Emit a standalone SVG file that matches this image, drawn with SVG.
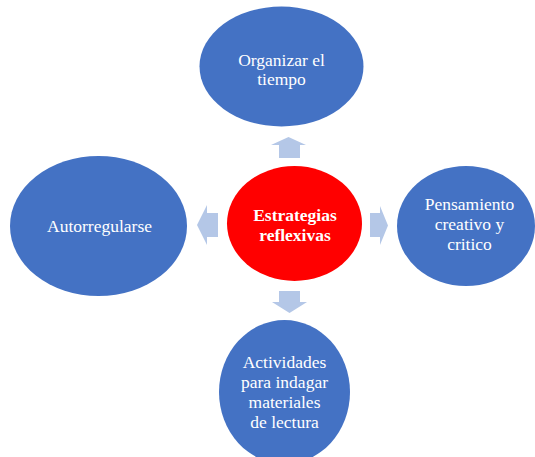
<svg xmlns="http://www.w3.org/2000/svg" width="535" height="457" viewBox="0 0 535 457">
<style>
.n{fill:#4472C4}
.c{fill:#FF0000}
.t{font-family:"Liberation Serif","Times New Roman",serif;font-size:17.5px;fill:#FFFFFF;text-anchor:middle}
.b{font-weight:bold}
.a{fill:#B4C7E7}
</style>
<rect width="535" height="457" fill="#FFFFFF"/>
<g id="connectors">
<polygon class="a" points="279,158 279,145 271,145 288.5,137 306,145 300,145 300,158"/>
<polygon class="a" points="218,213 207,213 207,205 197,225 207,245 207,237 218,237"/>
<polygon class="a" points="370,213 380,213 380,206 388,225.5 380,245 380,237 370,237"/>
<polygon class="a" points="279,291 300,291 300,302 307,302 289.5,313 272,302 279,302"/>
</g>
<g id="center">
<ellipse class="c" cx="294.5" cy="223.5" rx="67.5" ry="57.5"/>
<text class="t b" x="295" y="221">Estrategias</text>
<text class="t b" x="295" y="241">reflexivas</text>
</g>
<g id="top">
<ellipse class="n" cx="281.5" cy="66.5" rx="82" ry="60"/>
<text class="t" x="281.5" y="65.5">Organizar el</text>
<text class="t" x="281.5" y="84.5">tiempo</text>
</g>
<g id="left">
<ellipse class="n" cx="98.5" cy="226" rx="88.5" ry="70"/>
<text class="t" x="99.5" y="232">Autorregularse</text>
</g>
<g id="right">
<ellipse class="n" cx="466" cy="226" rx="69" ry="60"/>
<text class="t" x="469.5" y="210">Pensamiento</text>
<text class="t" x="469.5" y="230">creativo y</text>
<text class="t" x="469.5" y="250">critico</text>
</g>
<g id="bottom">
<ellipse class="n" cx="284.5" cy="392" rx="65.5" ry="72"/>
<text class="t" x="284.5" y="368">Actividades</text>
<text class="t" x="284.5" y="388">para indagar</text>
<text class="t" x="284.5" y="408">materiales</text>
<text class="t" x="284.5" y="428">de lectura</text>
</g>
</svg>
